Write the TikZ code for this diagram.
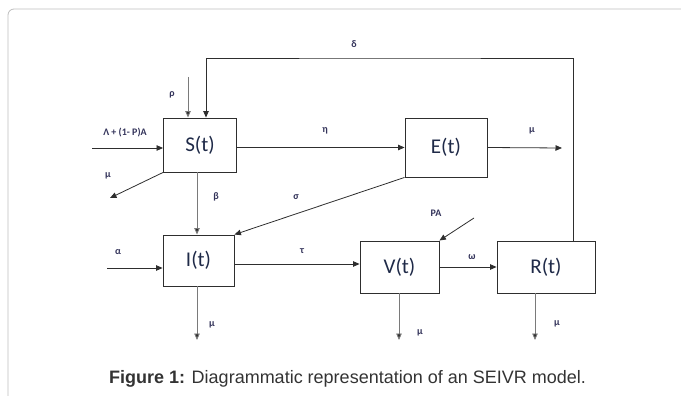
\documentclass[tikz,border=0pt]{standalone}
\usepackage{fontspec}
\setmainfont{Carlito}
\newfontfamily\capfont{Liberation Sans}
\usetikzlibrary{arrows.meta}
\definecolor{framegray}{HTML}{BDBDBD}
\definecolor{linedark}{HTML}{2E2E2E}
\definecolor{linegray}{HTML}{7A7A7A}
\definecolor{lblcol}{HTML}{33335A}
\definecolor{boxtxt}{HTML}{1F2A48}
\definecolor{captxt}{HTML}{333333}
\tikzset{
  compartment/.style={draw=linedark, line width=0.9pt, inner sep=0pt,
    font=\fontsize{21}{24}\selectfont, text=boxtxt},
  arr/.style={draw=linedark, line width=0.8pt, -{Triangle[length=6.5pt,width=5.5pt]}},
  garr/.style={draw=linegray, line width=0.9pt, -{Triangle[length=6.5pt,width=5.5pt,fill=linedark]}},
  lbl/.style={font=\bfseries\fontsize{10}{12}\selectfont, text=lblcol, inner sep=0pt},
}
\begin{document}
\begin{tikzpicture}[x=1pt,y=-1pt]
\useasboundingbox (0,0) rectangle (681,396);
% surrounding panel frame
\draw[framegray, line width=0.8pt, rounded corners=6pt] (8,396) -- (8,9) -- (681,9);

% compartments
\node[compartment, minimum width=73pt, minimum height=54pt] (S) at (200,145) {S(t)};
\node[compartment, minimum width=82pt, minimum height=59pt] (E) at (446,147.5) {E(t)};
\node[compartment, minimum width=71pt, minimum height=51pt] (I) at (198.5,260.5) {I(t)};
\node[compartment, minimum width=79pt, minimum height=52pt] (V) at (399.5,267) {V(t)};
\node[compartment, minimum width=98pt, minimum height=52pt] (R) at (546,267) {R(t)};

% free ends of the flows
\coordinate (fbtop) at (390,58);
\coordinate (rho0) at (188,77);
\coordinate (lam0) at (92,148);
\coordinate (muS) at (110,198);
\coordinate (muE) at (562,148);
\coordinate (al0) at (107,268);
\coordinate (muI) at (197,340);
\coordinate (tauy) at (300,264);
\coordinate (pa0) at (474,218);
\coordinate (muV) at (399,340);
\coordinate (muR) at (535,340);

% loss of immunity feedback R -> S
\draw[arr] ([xshift=27pt]R.north) |- (fbtop) -| ([xshift=6pt]S.north);
% inflows and transitions
\draw[garr] (rho0) -- (rho0 |- S.north);
\draw[arr] (lam0) -- (S.west |- lam0);
\draw[arr] (S.south west) -- (muS);
\draw[arr] (S.east |- E.west) -- (E.west);
\draw[arr] (E.east) -- (muE);
\draw[garr] ([xshift=-3pt]S.south) -- ([xshift=-3pt]S.south |- I.north);
\draw[arr] (E.south west) -- (I.north east);
\draw[arr] (al0) -- (I.west |- al0);
\draw[garr] (muI |- I.south) -- (muI);
\draw[arr] (I.east |- tauy) -- (V.west |- tauy);
\draw[arr] (pa0) -- (V.north east);
\draw[arr] (V.east) -- (R.west);
\draw[garr] (muV |- V.south) -- (muV);
\draw[garr] (muR |- R.south) -- (muR);

% rate labels
\node[lbl] (ldelta) at (354,44) {δ};
\node[lbl] (lrho) at (172,95) {ρ};
\node[lbl] (llam) at (125,133) {Λ + (1- P)A};
\node[lbl] (lmuS) at (108,176) {μ};
\node[lbl] (leta) at (325,131) {η};
\node[lbl] (lmuE) at (532,131) {μ};
\node[lbl] (lbeta) at (216,197) {β};
\node[lbl] (lsigma) at (296,197) {σ};
\node[lbl] (lalpha) at (118,252) {α};
\node[lbl] (lmuI) at (212,325) {μ};
\node[lbl] (ltau) at (302,251) {τ};
\node[lbl] (lpa) at (436,213) {PA};
\node[lbl] (lomega) at (472,257) {ω};
\node[lbl] (lmuV) at (420,333) {μ};
\node[lbl] (lmuR) at (557,324) {μ};

% caption
\node[font=\capfont\fontsize{18}{21}\selectfont, text=captxt, inner sep=0pt] (cap) at (347.5,379)
  {\textbf{Figure 1:} Diagrammatic representation of an SEIVR model.};
\end{tikzpicture}
\end{document}
